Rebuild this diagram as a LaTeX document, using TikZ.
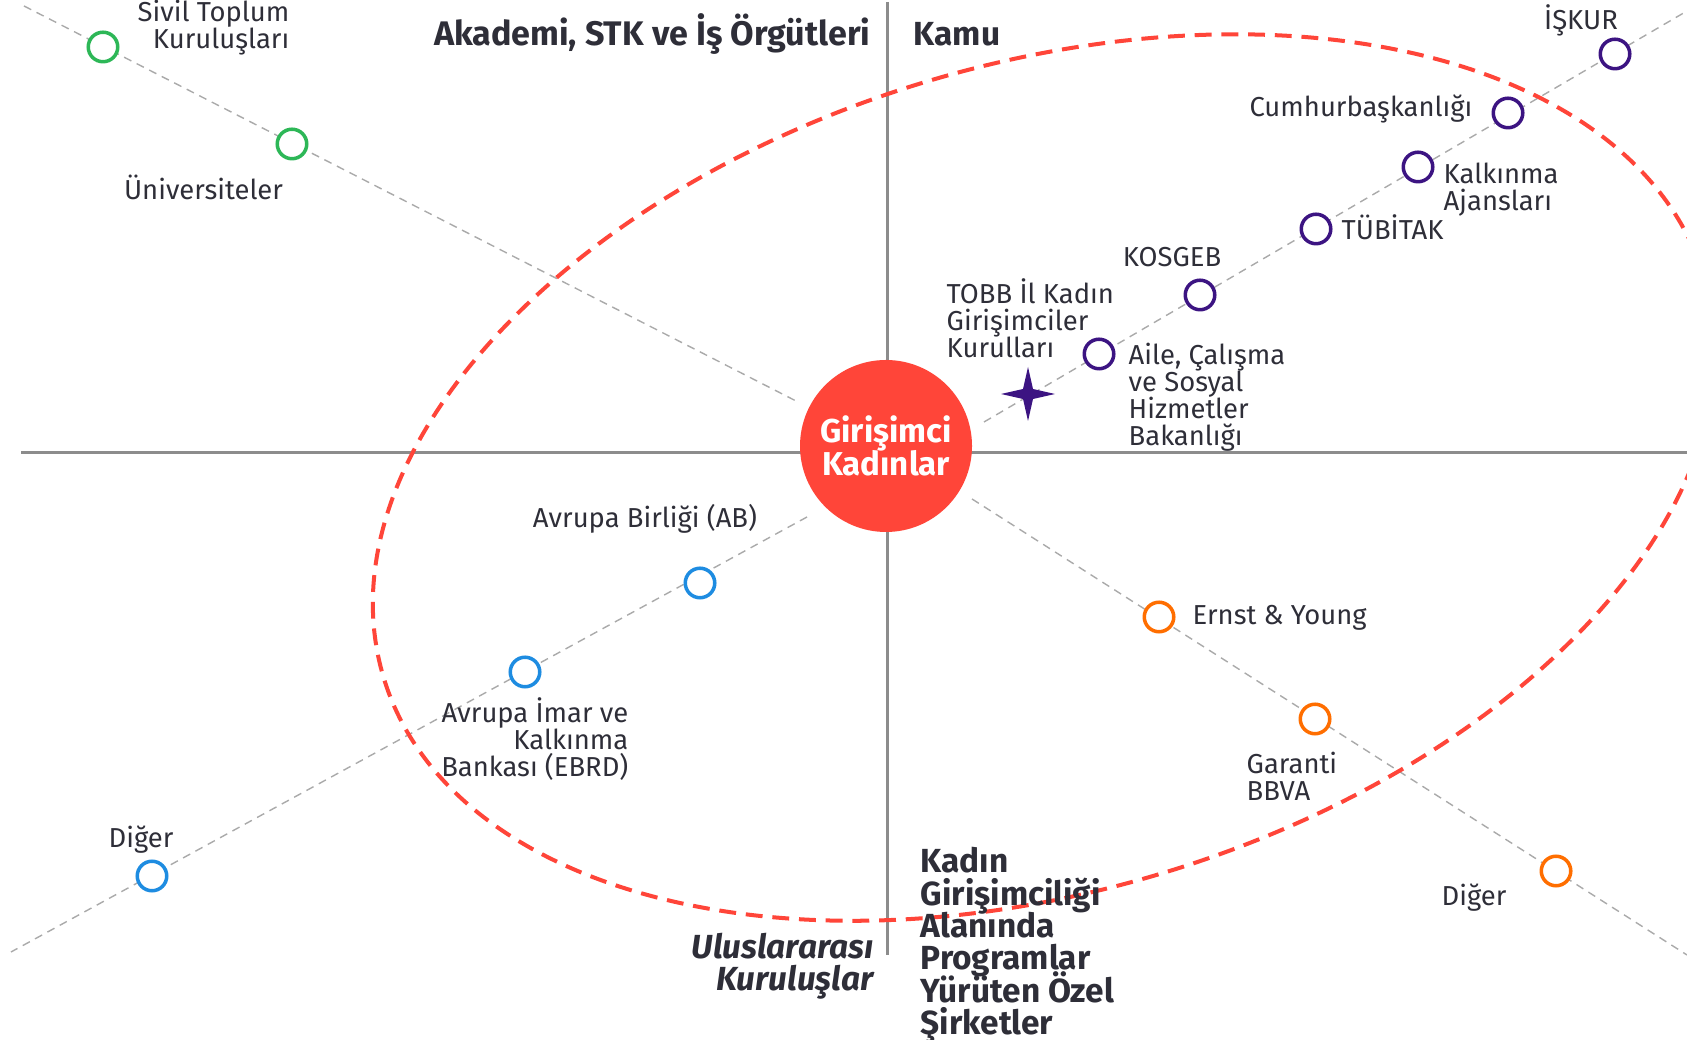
\documentclass[tikz,border=0pt]{standalone}
\usepackage{fontspec}
\setmainfont{Fira Sans}
\usetikzlibrary{positioning}
\lineskiplimit=-20pt\relax

\begin{document}
\begin{tikzpicture}[
    spoke/.style={draw=spk, line width=0.4pt, dash pattern=on 2.3pt off 1.7pt},
    axis/.style={draw=axs, line width=0.85pt},
    org/.style={circle, draw=#1, fill=white, line width=1pt, minimum size=0.295cm, inner sep=0},
    lbl/.style={text=ink, inner sep=0, font=\fontsize{7.8}{7.7}\selectfont},
    hdr/.style={text=ink, inner sep=0, font=\fontsize{9.5}{9.2}\selectfont\bfseries}
  ]
    \definecolor{ink}{RGB}{46,46,56}
    \definecolor{axs}{RGB}{140,140,140}
    \definecolor{spk}{RGB}{170,170,170}
    \definecolor{hubred}{RGB}{255,69,57}
    \definecolor{grn}{RGB}{45,183,87}
    \definecolor{prp}{RGB}{60,20,130}
    \definecolor{blu}{RGB}{30,140,225}
    \definecolor{orn}{RGB}{255,110,0}
    \useasboundingbox (0,0) rectangle (16.87,10.40);

    % axes
    \coordinate (vtop) at (8.87,10.38);
    \coordinate (vbot) at (8.87,0.85);
    \coordinate (hlft) at (0.21,5.87);
    \coordinate (hrgt) at (16.87,5.87);
    \draw[axis] (vtop) -- (vbot);
    \draw[axis] (hlft) -- (hrgt);

    % spokes
    \coordinate (ul1) at (0.24,10.34);  \coordinate (ul2) at (7.96,6.39);
    \coordinate (ur1) at (9.84,6.18);   \coordinate (ur2) at (16.87,10.29);
    \coordinate (ll1) at (8.07,5.23);   \coordinate (ll2) at (0.11,0.88);
    \coordinate (lr1) at (9.72,5.41);   \coordinate (lr2) at (16.87,0.85);
    \draw[spoke] (ul1) -- (ul2);
    \draw[spoke] (ur1) -- (ur2);
    \draw[spoke] (ll1) -- (ll2);
    \draw[spoke] (lr1) -- (lr2);

    % scope ring
    \coordinate (ring) at (10.44,5.625);
    \draw[hubred, line width=1.14pt, dash pattern=on 4.8pt off 2.8pt, rotate around={16.9:(ring)}]
      (ring) ellipse (6.90 and 4.13);

    \node[circle, fill=hubred, minimum size=1.72cm, inner sep=0, text=white, align=center,
      font=\fontsize{9.4}{9.3}\selectfont\bfseries] (hub) at (8.86,5.94) {Girişimci\\Kadınlar};

    % akademi
    \node[org=grn] (civil) at (1.03,9.93) {};
    \node[org=grn] (univ) at (2.92,8.96) {};
    % kamu
    \node[org=prp] (iskur) at (16.15,9.86) {};
    \node[org=prp] (cumhur) at (15.08,9.27) {};
    \node[org=prp] (kalk) at (14.18,8.73) {};
    \node[org=prp] (tubitak) at (13.16,8.11) {};
    \node[org=prp] (kosgeb) at (12.00,7.45) {};
    \node[org=prp] (aile) at (10.99,6.86) {};
    \coordinate (tobb) at (10.28,6.46);
    \fill[prp, shift={(tobb)}] (0,0.27) -- (0.05,0.05) -- (0.27,0) -- (0.05,-0.05)
      -- (0,-0.27) -- (-0.05,-0.05) -- (-0.27,0) -- (-0.05,0.05) -- cycle;
    % uluslararasi
    \node[org=blu] (ab) at (7.00,4.57) {};
    \node[org=blu] (ebrd) at (5.25,3.68) {};
    \node[org=blu] (digerb) at (1.52,1.64) {};
    % ozel
    \node[org=orn] (ey) at (11.59,4.23) {};
    \node[org=orn] (garanti) at (13.15,3.21) {};
    \node[org=orn] (digero) at (15.56,1.69) {};

    % labels
    \node[lbl, anchor=east, align=right] (civilt) at (2.90,10.12) {Sivil Toplum\\Kuruluşları};
    \node[lbl, anchor=base] (univt) at (2.035,8.40) {Üniversiteler};
    \node[lbl, anchor=base] (iskurt) at (15.81,10.10) {İŞKUR};
    \node[lbl, anchor=base east] (cumhurt) at (14.73,9.23) {Cumhurbaşkanlığı};
    \node[lbl, anchor=west, align=left] (kalkt) at (14.43,8.50) {Kalkınma\\Ajansları};
    \node[lbl, anchor=base west] (tubitakt) at (13.41,8.00) {TÜBİTAK};
    \node[lbl, anchor=base] (kosgebt) at (11.72,7.73) {KOSGEB};
    \node[lbl, anchor=west, align=left] (tobbt) at (9.46,7.22) {TOBB İl Kadın\\Girişimciler\\Kurulları};
    \node[lbl, anchor=west, align=left] (ailet) at (11.28,6.43) {Aile, Çalışma\\ve Sosyal\\Hizmetler\\Bakanlığı};
    \node[lbl, anchor=base] (abt) at (6.45,5.12) {Avrupa Birliği (AB)};
    \node[lbl, anchor=east, align=right] (ebrdt) at (6.29,3.01) {Avrupa İmar ve\\Kalkınma\\Bankası (EBRD)};
    \node[lbl, anchor=base] (digerbt) at (1.41,1.92) {Diğer};
    \node[lbl, anchor=base west] (eyt) at (11.92,4.15) {Ernst \& Young};
    \node[lbl, anchor=west, align=left] (garantit) at (12.46,2.64) {Garanti\\BBVA};
    \node[lbl, anchor=base] (digerot) at (14.74,1.34) {Diğer};

    % quadrant titles
    \node[hdr, anchor=base east, font=\fontsize{9.7}{9.2}\selectfont\bfseries] (akd) at (8.71,9.94) {Akademi, STK ve İş Örgütleri};
    \node[hdr, anchor=base west] (kamu) at (9.13,9.94) {Kamu};
    \node[hdr, anchor=east, align=right, font=\fontsize{9.5}{9.2}\selectfont\bfseries\itshape] (intl) at (8.74,0.74) {Uluslararası\\Kuruluşlar};
    \node[hdr, anchor=west, align=left] (firm) at (9.20,0.945) {Kadın\\Girişimciliği\\Alanında\\Programlar\\Yürüten Özel\\Şirketler};
\end{tikzpicture}
\end{document}
